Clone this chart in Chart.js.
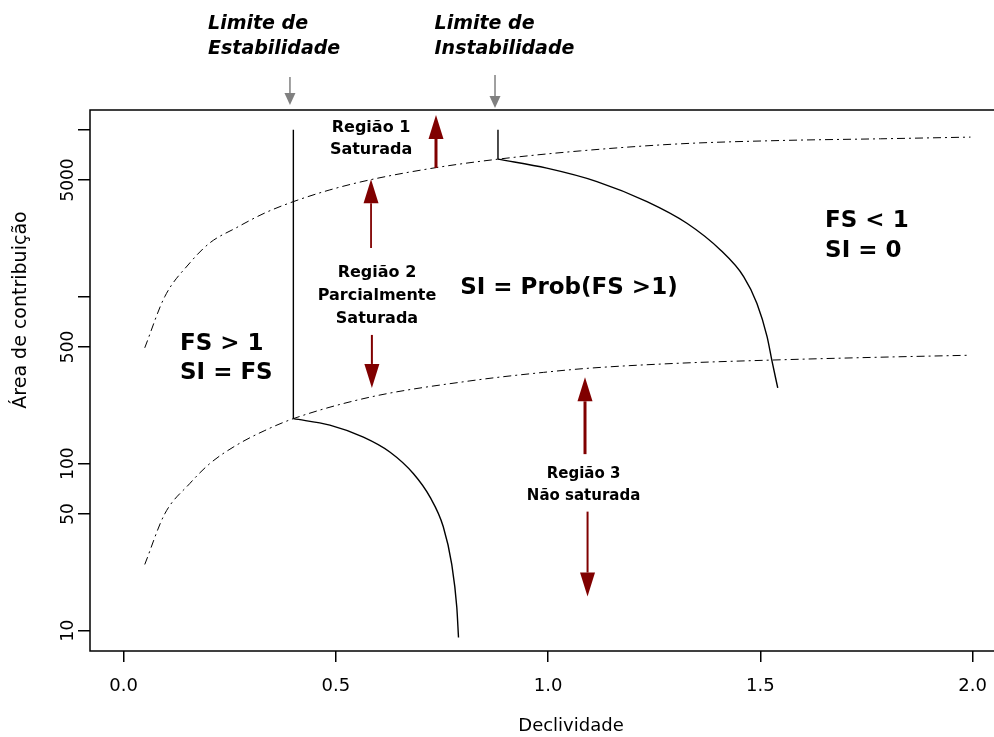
<!DOCTYPE html>
<html>
<head>
<meta charset="utf-8">
<title>Área de contribuição x Declividade</title>
<script src="https://cdn.jsdelivr.net/npm/chart.js@4.4.1/dist/chart.umd.min.js"></script>
<style>
  html, body { margin: 0; padding: 0; background: #fff; overflow: hidden; }
  #wrap { position: absolute; left: 0; top: 0; width: 1052px; height: 737px; }
</style>
</head>
<body>
<div id="wrap"><canvas id="chart"></canvas></div>
<script>
'use strict';

const FONT = '"DejaVu Sans", sans-serif';

// axis ticks
const xTicks = [0.0, 0.5, 1.0, 1.5, 2.0];
const yTicks = [10, 50, 100, 500, 1000, 5000, 10000];
const yTickLabels = ['10', '50', '100', '500', '', '5000', ''];

// dash-dot limits
const upperLimitX = [0.05, 0.097, 0.156, 0.203, 0.266, 0.333, 0.4, 0.486, 0.58, 0.737, 0.882, 1.076, 1.311, 1.547, 1.783, 1.995];
const upperLimitY = [494, 999, 1591, 2097, 2590, 3173, 3708, 4360, 5005, 5932, 6660, 7466, 8230, 8614, 8820, 9028];
const lowerLimitX = [0.05, 0.097, 0.156, 0.203, 0.266, 0.333, 0.4, 0.58, 0.816, 0.989, 1.091, 1.295, 1.524, 1.766, 1.995];
const lowerLimitY = [24.9, 50, 76, 100, 129, 158, 186, 250, 313, 352, 372, 398, 417, 433, 446];

// solid curves
const stableCurveX = [0.4, 0.486, 0.565, 0.628, 0.683, 0.722, 0.753, 0.773, 0.785, 0.789];
const stableCurveY = [186, 170, 144, 117, 87, 63, 42, 25, 13.8, 9.1];
const unstableCurveX = [0.882, 0.997, 1.115, 1.233, 1.327, 1.406, 1.461, 1.492, 1.516, 1.527, 1.541];
const unstableCurveY = [6660, 5884, 4891, 3709, 2752, 1903, 1316, 911, 575, 417, 284];

// vertical limit lines
const stabilityLineX = [0.4, 0.4];
const stabilityLineY = [186, 10000];
const instabilityLineX = [0.882, 0.882];
const instabilityLineY = [6660, 10000];

// notes inside the plot (x, y in data units, first line)
const plotNotes = [
  { lines: ['Região 1', 'Saturada'], x: 0.583, y: 10230, size: 16, gap: 22, align: 'center' },
  { lines: ['Região 2', 'Parcialmente', 'Saturada'], x: 0.597, y: 1387, size: 16, gap: 23, align: 'center' },
  { lines: ['SI = Prob(FS >1)'], x: 0.793, y: 1127, size: 23, gap: 0, align: 'left' },
  { lines: ['FS < 1', 'SI = 0'], x: 1.6525, y: 2838, size: 23, gap: 30, align: 'left' },
  { lines: ['FS > 1', 'SI = FS'], x: 0.133, y: 521, size: 23, gap: 29, align: 'left' },
  { lines: ['Região 3', 'Não saturada'], x: 1.0836, y: 86.7, size: 15, gap: 22, align: 'center' }
];
// notes above the plot (y in canvas pixels)
const headerNotes = [
  { lines: ['Limite de', 'Estabilidade'], x: 0.199, top: 24, size: 19, gap: 25 },
  { lines: ['Limite de', 'Instabilidade'], x: 0.7326, top: 24, size: 19, gap: 25 }
];

const redArrows = [
  { x: 0.736, from: 5900, to: 12250, width: 3 },
  { x: 0.583, from: 1957, to: 5050, width: 1.8 },
  { x: 0.585, from: 590, to: 284, width: 2 },
  { x: 1.087, from: 114, to: 329, width: 3 },
  { x: 1.093, from: 51.6, to: 16.0, width: 2 }
];
const greyArrows = [
  { x: 0.392, from: 77, to: 105 },
  { x: 0.875, from: 75, to: 108 }
];

function toPoints(xs, ys) {
  return xs.map((x, i) => ({ x: x, y: ys[i] }));
}

function drawArrow(ctx, x, y0, y1, color, shaft, headW, headL) {
  const dir = y1 < y0 ? -1 : 1;
  ctx.strokeStyle = color;
  ctx.fillStyle = color;
  ctx.lineWidth = shaft;
  ctx.beginPath();
  ctx.moveTo(x, y0);
  ctx.lineTo(x, y1 - dir * headL);
  ctx.stroke();
  ctx.beginPath();
  ctx.moveTo(x, y1);
  ctx.lineTo(x - headW / 2, y1 - dir * headL);
  ctx.lineTo(x + headW / 2, y1 - dir * headL);
  ctx.closePath();
  ctx.fill();
}

const decorPlugin = {
  id: 'decor',
  afterDraw(chart) {
    const ctx = chart.ctx;
    const area = chart.chartArea;
    const xs = chart.scales.x;
    const ys = chart.scales.y;
    ctx.save();

    // box around the plot
    ctx.strokeStyle = '#000';
    ctx.lineWidth = 1.5;
    ctx.strokeRect(area.left, area.top, area.right - area.left, area.bottom - area.top);

    // rotated y tick labels
    ctx.fillStyle = '#000';
    ctx.font = '17px ' + FONT;
    ctx.textAlign = 'center';
    ctx.textBaseline = 'alphabetic';
    yTicks.forEach((v, i) => {
      if (!yTickLabels[i]) return;
      ctx.save();
      ctx.translate(73, ys.getPixelForValue(v));
      ctx.rotate(-Math.PI / 2);
      ctx.fillText(yTickLabels[i], 0, 0);
      ctx.restore();
    });

    // y axis title
    ctx.save();
    ctx.font = '19px ' + FONT;
    ctx.textBaseline = 'middle';
    ctx.translate(21, 310);
    ctx.rotate(-Math.PI / 2);
    ctx.fillText('Área de contribuição', 0, 0);
    ctx.restore();

    // notes
    ctx.textBaseline = 'middle';
    plotNotes.forEach(n => {
      ctx.font = 'bold ' + n.size + 'px ' + FONT;
      ctx.textAlign = n.align;
      const px = xs.getPixelForValue(n.x);
      const py = ys.getPixelForValue(n.y);
      n.lines.forEach((t, i) => ctx.fillText(t, px, py + i * n.gap));
    });
    headerNotes.forEach(n => {
      ctx.font = 'italic bold ' + n.size + 'px ' + FONT;
      ctx.textAlign = 'left';
      const px = xs.getPixelForValue(n.x);
      n.lines.forEach((t, i) => ctx.fillText(t, px, n.top + i * n.gap));
    });

    // arrows
    redArrows.forEach(a => {
      drawArrow(ctx, xs.getPixelForValue(a.x), ys.getPixelForValue(a.from),
        ys.getPixelForValue(a.to), '#800000', a.width, 15, 24);
    });
    greyArrows.forEach(a => {
      drawArrow(ctx, xs.getPixelForValue(a.x), a.from, a.to, '#808080', 1.5, 11, 12);
    });

    ctx.restore();
  }
};

const solid = { borderColor: '#000', borderWidth: 1.4, pointRadius: 0, showLine: true, fill: false };
const dashDot = { borderColor: '#000', borderWidth: 1, borderDash: [8, 4, 2, 4], pointRadius: 0, showLine: true, fill: false };

const chartData = {
  datasets: [
    Object.assign({ label: 'Limite superior', data: toPoints(upperLimitX, upperLimitY), cubicInterpolationMode: 'monotone' }, dashDot),
    Object.assign({ label: 'Limite inferior', data: toPoints(lowerLimitX, lowerLimitY), cubicInterpolationMode: 'monotone' }, dashDot),
    Object.assign({ label: 'FS = 1 (estável)', data: toPoints(stableCurveX, stableCurveY), cubicInterpolationMode: 'monotone' }, solid),
    Object.assign({ label: 'FS = 1 (instável)', data: toPoints(unstableCurveX, unstableCurveY), cubicInterpolationMode: 'monotone' }, solid),
    Object.assign({ label: 'Limite de Estabilidade', data: toPoints(stabilityLineX, stabilityLineY) }, solid),
    Object.assign({ label: 'Limite de Instabilidade', data: toPoints(instabilityLineX, instabilityLineY) }, solid)
  ]
};

const chartOptions = {
  responsive: true,
  maintainAspectRatio: false,
  animation: false,
  layout: { padding: { top: 110, right: 0, left: 0, bottom: 0 } },
  plugins: { legend: { display: false }, tooltip: { enabled: false } },
  scales: {
    x: {
      type: 'linear',
      min: -0.079,
      max: 2.187,
      afterBuildTicks: scale => { scale.ticks = xTicks.map(v => ({ value: v })); },
      afterFit: scale => { scale.height = 86; },
      grid: { drawOnChartArea: false, drawTicks: true, tickLength: 11, color: '#000', lineWidth: 1.5 },
      border: { display: false },
      ticks: {
        autoSkip: false,
        maxRotation: 0,
        padding: 14,
        color: '#000',
        font: { family: FONT, size: 18 },
        callback: v => Number(v).toFixed(1)
      },
      title: { display: true, text: 'Declividade', color: '#000', padding: 0, font: { family: FONT, size: 18 } }
    },
    y: {
      type: 'logarithmic',
      min: 7.55,
      max: 13120,
      afterBuildTicks: scale => { scale.ticks = yTicks.map(v => ({ value: v })); },
      afterFit: scale => { scale.width = 90; },
      grid: { drawOnChartArea: false, drawTicks: true, tickLength: 12, color: '#000', lineWidth: 1.5 },
      border: { display: false },
      ticks: { display: false }
    }
  }
};

new Chart(document.getElementById('chart').getContext('2d'), {
  type: 'scatter',
  data: chartData,
  options: chartOptions,
  plugins: [decorPlugin]
});
</script>
</body>
</html>
